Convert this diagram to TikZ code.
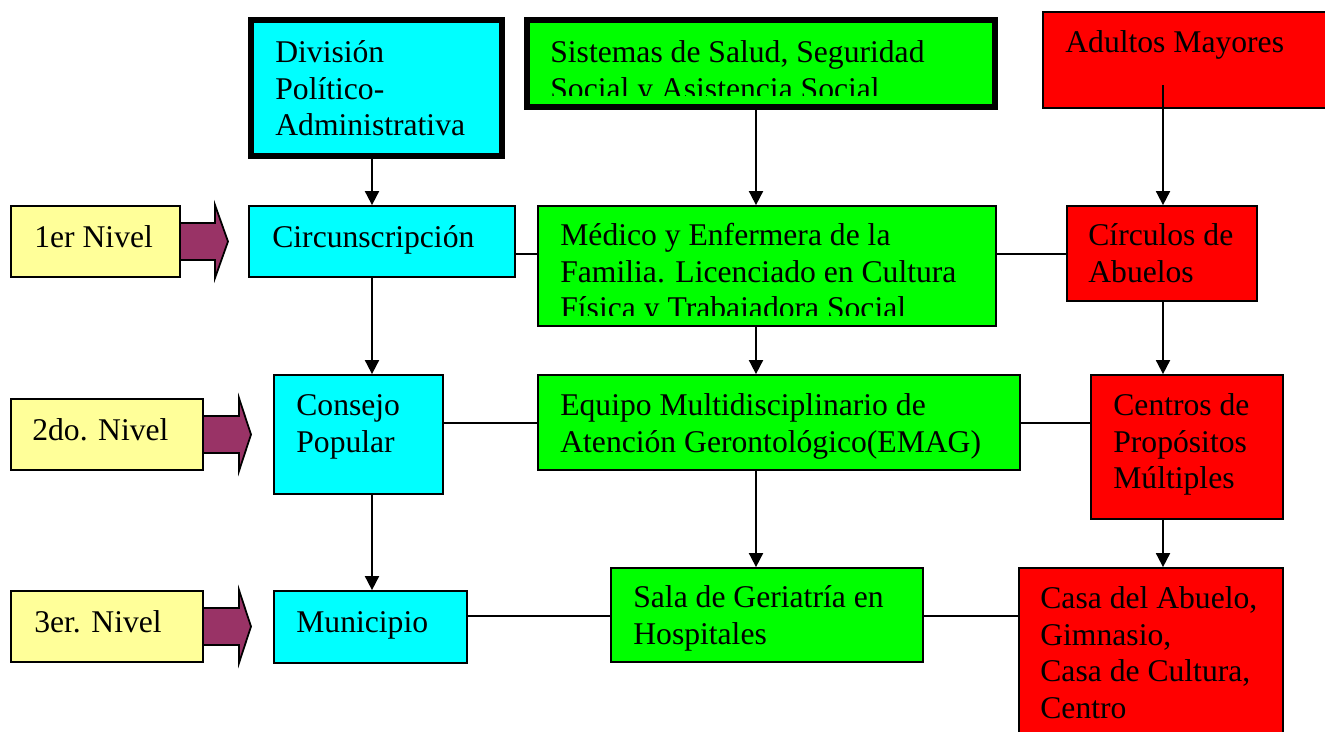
\documentclass[tikz,border=0pt]{standalone}
\usepackage{fontspec}
\setmainfont{Liberation Serif}
\usetikzlibrary{arrows.meta,fit}

\definecolor{nivelyellow}{HTML}{FFFF99}
\definecolor{nivelarrow}{HTML}{993366}
\definecolor{polcyan}{HTML}{00FFFF}
\definecolor{salgreen}{HTML}{00FF00}
\definecolor{adured}{HTML}{FF0000}

\tikzset{
	box/.style={draw=black, line width=1pt, inner sep=0pt},
	thickbox/.style={draw=black, line width=3.4pt, inner sep=0pt},
	txt/.style={anchor=north west, inner sep=0pt, align=left, font=\fontsize{18}{21}\selectfont},
	conn/.style={line width=1pt},
	arr/.style={line width=1pt, -{Triangle[width=8pt,length=8pt]}},
	blockarrow/.style={draw=black, line width=1pt, fill=nivelarrow, line join=miter},
}

\begin{document}
\begin{tikzpicture}[x=0.02cm, y=-0.02cm]
	\clip (0,0) rectangle (1325,731);

	% niveles
	\draw[blockarrow] (180,223) -- (215,223) -- (215,205) -- (228,241.5) -- (215,278) -- (215,260) -- (180,260) -- cycle;
	\draw[blockarrow] (203,416) -- (239,416) -- (239,398) -- (251,434.5) -- (239,471) -- (239,453) -- (203,453) -- cycle;
	\draw[blockarrow] (203,608) -- (239,608) -- (239,590) -- (251,626.5) -- (239,663) -- (239,645) -- (203,645) -- cycle;

	\node[box, fill=nivelyellow, fit={(11,206) (180,277)}] (n1) {};
	\node[box, fill=nivelyellow, fit={(11,399) (203,470)}] (n2) {};
	\node[box, fill=nivelyellow, fit={(11,591) (203,662)}] (n3) {};
	\node[txt] (n1txt) at (34,221) {\strut 1er Nivel};
	\node[txt] (n2txt) at (32,414) {\strut 2do. Nivel};
	\node[txt] (n3txt) at (34,606) {\strut 3er. Nivel};

	% columna politico-administrativa
	\node[thickbox, fill=polcyan, fit={(251,20) (502,156)}] (div) {};
	\node[box, fill=polcyan, fit={(249,206) (515,277)}] (circ) {};
	\node[box, fill=polcyan, fit={(274,375) (443,494)}] (cons) {};
	\node[box, fill=polcyan, fit={(274,591) (467,663)}] (mun) {};
	\node[txt] (divtxt) at (275,36) {\strut División\\Político-\\Administrativa};
	\node[txt] (circtxt) at (272,221) {\strut Circunscripción};
	\node[txt] (constxt) at (296,389) {\strut Consejo\\Popular};
	\node[txt] (muntxt) at (296,606) {\strut Municipio};

	% columna salud
	\node[thickbox, fill=salgreen, fit={(527,20) (995,107)}] (sist) {};
	\node[box, fill=salgreen, fit={(538,206) (996,326)}] (med) {};
	\node[box, fill=salgreen, fit={(538,375) (1020,470)}] (emag) {};
	\node[box, fill=salgreen, fit={(611,568) (923,662)}] (sala) {};
	\begin{scope}
		\clip (530,23) rectangle (992,95);
		\node[txt] (sisttxt) at (550,36) {\strut Sistemas de Salud, Seguridad\\Social y Asistencia Social};
	\end{scope}
	\begin{scope}
		\clip (540,208) rectangle (994,315);
		\node[txt] (medtxt) at (560,219) {\strut Médico y Enfermera de la\\Familia. Licenciado en Cultura\\Física y Trabajadora Social};
	\end{scope}
	\node[txt] (emagtxt) at (560,389) {\strut Equipo Multidisciplinario de\\Atención Gerontológico(EMAG)};
	\node[txt] (salatxt) at (633,581) {\strut Sala de Geriatría en\\Hospitales};

	% columna adultos mayores
	\node[box, fill=adured, fit={(1043,12) (1340,108)}] (adul) {};
	\node[box, fill=adured, fit={(1067,206) (1257,301)}] (circab) {};
	\node[box, fill=adured, fit={(1091,375) (1283,519)}] (cpm) {};
	\node[box, fill=adured, fit={(1019,568) (1283,750)}] (casa) {};
	\node[txt] (adultxt) at (1065,26) {\strut Adultos Mayores};
	\node[txt] (circabtxt) at (1088,219) {\strut Círculos de\\Abuelos};
	\node[txt] (cpmtxt) at (1113,389) {\strut Centros de\\Propósitos\\Múltiples};
	\node[txt] (casatxt) at (1040,582) {\strut Casa del Abuelo,\\Gimnasio,\\Casa de Cultura,\\Centro};

	\coordinate (col1) at (372,0);
	\coordinate (col2) at (756,0);
	\coordinate (col3) at (1163,0);
	\coordinate (row1) at (0,254);
	\coordinate (row2) at (0,423);
	\coordinate (row3) at (0,616);
	\coordinate (adin) at (1163,85);

	\draw[arr] (div.south -| col1) -- (circ.north -| col1);
	\draw[arr] (circ.south -| col1) -- (cons.north -| col1);
	\draw[arr] (cons.south -| col1) -- (mun.north -| col1);

	\draw[arr] (sist.south -| col2) -- (med.north -| col2);
	\draw[arr] (med.south -| col2) -- (emag.north -| col2);
	\draw[arr] (emag.south -| col2) -- (sala.north -| col2);

	\draw[arr] (adin) -- (circab.north -| col3);
	\draw[arr] (circab.south -| col3) -- (cpm.north -| col3);
	\draw[arr] (cpm.south -| col3) -- (casa.north -| col3);

	\draw[conn] (circ.east |- row1) -- (med.west |- row1);
	\draw[conn] (med.east |- row1) -- (circab.west |- row1);
	\draw[conn] (cons.east |- row2) -- (emag.west |- row2);
	\draw[conn] (emag.east |- row2) -- (cpm.west |- row2);
	\draw[conn] (mun.east |- row3) -- (sala.west |- row3);
	\draw[conn] (sala.east |- row3) -- (casa.west |- row3);
\end{tikzpicture}
\end{document}
